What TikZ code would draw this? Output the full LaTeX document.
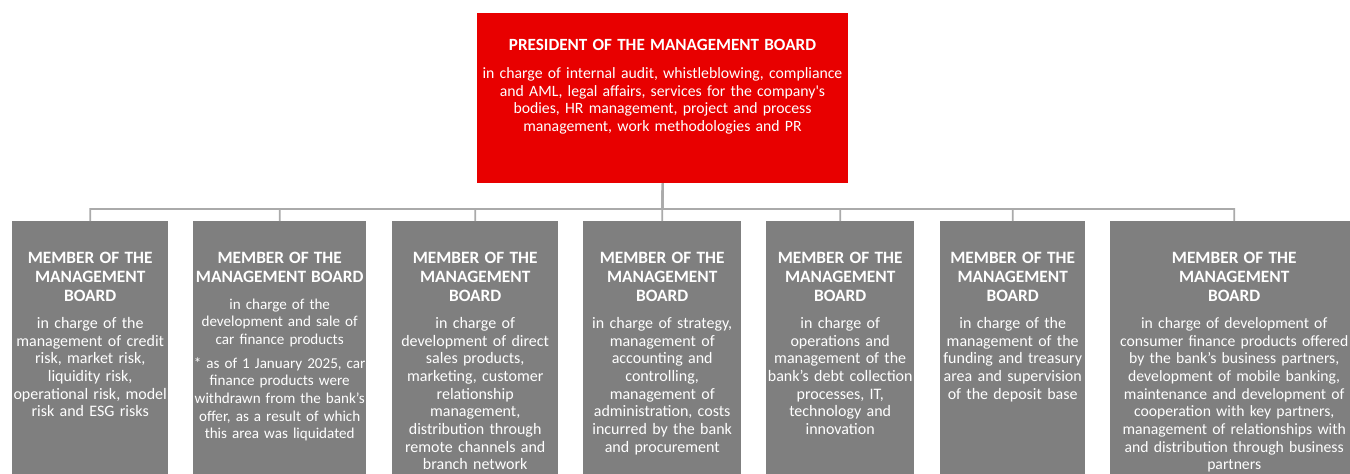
\documentclass[tikz,border=0pt]{standalone}
\usepackage{fontspec}
\setmainfont{Carlito}
\definecolor{boardred}{RGB}{232,0,0}
\definecolor{membergray}{RGB}{127,127,127}
\definecolor{linkgray}{RGB}{170,170,170}

% heading of a box: bold title lines set in their own size and leading
\newcommand\boxhead[3]{{\bfseries\fontsize{#1}{#2}\selectfont #3\par}}

\tikzset{
  presbox/.style={fill=boardred, draw=none, inner sep=0pt, anchor=north west},
  memberbox/.style={fill=membergray, draw=none, inner sep=0pt, anchor=north west,
    minimum height=270pt},
  boxtext/.style={text=white, inner sep=0pt, anchor=base, align=center,
    text width=420pt, font=\fontsize{16}{17.7}\selectfont},
  link/.style={draw=linkgray, line width=1.8pt}
}

\begin{document}
\begin{tikzpicture}[x=1pt, y=-1pt]
  \useasboundingbox (0,0) rectangle (1350,474);
  \clip (0,0) rectangle (1350,474);
  \fill[white] (0,0) rectangle (1350,474);

  % president of the board
  \node[presbox, minimum width=371pt, minimum height=170pt] (pres) at (477,13) {};
  \node[boxtext, font=\fontsize{15.75}{17.6}\selectfont] (prestext) at (662.5,50.2)
    {\boxhead{17.1}{17.5}{PRESIDENT OF THE MANAGEMENT BOARD}\vspace{10.6pt}%
     in charge of internal audit, whistleblowing, compliance\\
     and AML, legal affairs, services for the company\textquotesingle s\\
     bodies, HR management, project and process\\
     management, work methodologies and PR};

  % members of the board
  \node[memberbox, minimum width=156pt] (m1) at (12,221) {};
  \node[memberbox, minimum width=173pt] (m2) at (193,221) {};
  \node[memberbox, minimum width=166pt] (m3) at (392,221) {};
  \node[memberbox, minimum width=158pt] (m4) at (583,221) {};
  \node[memberbox, minimum width=148pt] (m5) at (766,221) {};
  \node[memberbox, minimum width=145pt] (m6) at (940,221) {};
  \node[memberbox, minimum width=248pt] (m7) at (1110,221) {};

  % connectors: trunk from the president, bus line, drops to each member
  \coordinate (bus) at (662.5,209);
  \foreach \m in {m1,m2,m3,m4,m5,m6,m7}
    \draw[link] (pres.south) -- (bus) -| (\m.north);

  \node[boxtext] (t1) at (m1.north |- 0,263.9)
    {\boxhead{17.3}{19}{MEMBER OF THE\\MANAGEMENT\\BOARD}\vspace{8.7pt}%
     in charge of the\\
     management of credit\\
     risk, market risk,\\
     liquidity risk,\\
     operational risk, model\\
     risk and ESG risks};

  \node[boxtext, font=\fontsize{15.1}{17.6}\selectfont] (t2) at (m2.north |- 0,263.9)
    {\boxhead{17.3}{19}{MEMBER OF THE\\MANAGEMENT BOARD}\vspace{8.7pt}%
     in charge of the\\
     development and sale of\\
     car finance products\par\vspace{6.3pt}
     * as of 1 January 2025, car\\
     finance products were\\
     withdrawn from the bank’s\\
     offer, as a result of which\\
     this area was liquidated};

  \node[boxtext] (t3) at (m3.north |- 0,263.9)
    {\boxhead{17.3}{19}{MEMBER OF THE\\MANAGEMENT\\BOARD}\vspace{8.7pt}%
     in charge of\\
     development of direct\\
     sales products,\\
     marketing, customer\\
     relationship\\
     management,\\
     distribution through\\
     remote channels and\\
     branch network};

  \node[boxtext] (t4) at (m4.north |- 0,263.9)
    {\boxhead{17.3}{19}{MEMBER OF THE\\MANAGEMENT\\BOARD}\vspace{8.7pt}%
     in charge of strategy,\\
     management of\\
     accounting and\\
     controlling,\\
     management of\\
     administration, costs\\
     incurred by the bank\\
     and procurement};

  \node[boxtext] (t5) at (m5.north |- 0,263.9)
    {\boxhead{17.3}{19}{MEMBER OF THE\\MANAGEMENT\\BOARD}\vspace{8.7pt}%
     in charge of\\
     operations and\\
     management of the\\
     bank’s debt collection\\
     processes, IT,\\
     technology and\\
     innovation};

  \node[boxtext] (t6) at (m6.north |- 0,263.9)
    {\boxhead{17.3}{19}{MEMBER OF THE\\MANAGEMENT\\BOARD}\vspace{8.7pt}%
     in charge of the\\
     management of the\\
     funding and treasury\\
     area and supervision\\
     of the deposit base};

  \node[boxtext, font=\fontsize{15.7}{17.7}\selectfont] (t7) at (m7.north |- 0,263.9)
    {\boxhead{17.3}{19}{MEMBER OF THE\\MANAGEMENT\\BOARD}\vspace{8.7pt}%
     in charge of development of\\
     consumer finance products offered\\
     by the bank’s business partners,\\
     development of mobile banking,\\
     maintenance and development of\\
     cooperation with key partners,\\
     management of relationships with\\
     and distribution through business\\
     partners};
\end{tikzpicture}
\end{document}
